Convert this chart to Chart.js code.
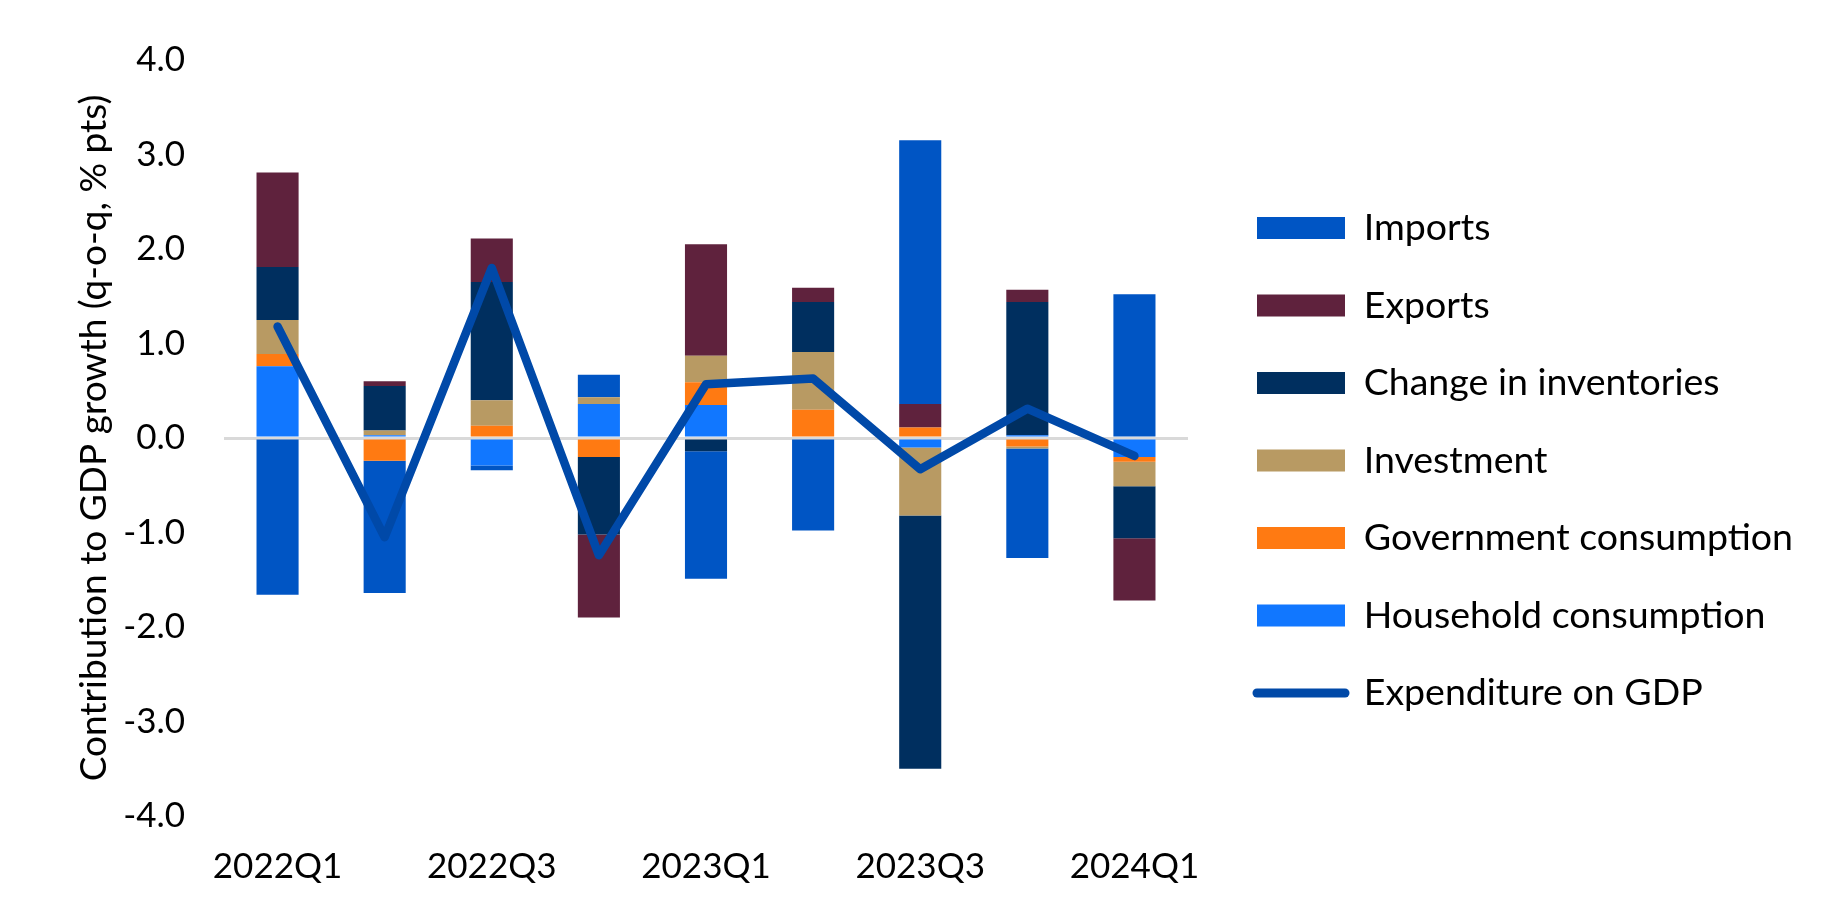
<!DOCTYPE html>
<html>
<head>
<meta charset="utf-8">
<script src="https://cdn.jsdelivr.net/npm/chart.js@4.4.1/dist/chart.umd.min.js"></script>
<style>
  html, body { margin: 0; padding: 0; background: #fff; }
  #wrap { width: 1842px; height: 921px; }
</style>
</head>
<body>
<div id="wrap"><canvas id="gdpChart"></canvas></div>
<script>
// quarters and the labels actually printed under the axis
const quarters   = ['2022Q1', '2022Q2', '2022Q3', '2022Q4', '2023Q1', '2023Q2', '2023Q3', '2023Q4', '2024Q1'];
const tickLabels = ['2022Q1', '', '2022Q3', '', '2023Q1', '', '2023Q3', '', '2024Q1'];

// contributions to q-o-q GDP growth, % pts
const household   = [0.76, 0.03, -0.29, 0.36, 0.35, 0.00, -0.10, 0.03, -0.20];
const government  = [0.13, -0.24, 0.13, -0.20, 0.24, 0.30, 0.11, -0.09, -0.05];
const investment  = [0.36, 0.05, 0.27, 0.07, 0.28, 0.61, -0.72, -0.02, -0.26];
const inventories = [0.56, 0.47, 1.25, -0.82, -0.14, 0.53, -2.68, 1.41, -0.55];
const exportsC    = [1.00, 0.05, 0.46, -0.88, 1.18, 0.15, 0.25, 0.13, -0.66];
const importsC    = [-1.66, -1.40, -0.05, 0.24, -1.35, -0.98, 2.79, -1.16, 1.52];
const gdpGrowth   = [1.18, -1.05, 1.80, -1.24, 0.57, 0.63, -0.33, 0.31, -0.19];

// y axis range
const yMin = -4;
const yMax = 4;
const yStep = 1;

const lineColor = '#0049A8';
// legend position of each dataset (Excel lists stacked series top first)
const legendRank = [5, 4, 3, 2, 1, 0, 6];

Chart.defaults.font.family = 'Lato';
Chart.defaults.color = '#000';

const canvas = document.getElementById('gdpChart');
const ctx = canvas.getContext('2d');

// legend: swatches start at x=1257, so size the right padding from the longest label
const legendFont = 37.5;
const legendPad = 40;
ctx.font = legendFont + 'px Lato';
const longest = ctx.measureText('Government consumption').width;
const rightPad = 1842 - 1257 + legendPad - (legendPad + 88 + legendFont / 2 + longest + 10);

const gdpChart = new Chart(ctx, {
    type: 'bar',
    data: {
        labels: quarters,
        datasets: [
            { label: 'Household consumption', data: household, backgroundColor: '#1177FF' },
            { label: 'Government consumption', data: government, backgroundColor: '#FF7A12' },
            { label: 'Investment', data: investment, backgroundColor: '#B89A63' },
            { label: 'Change in inventories', data: inventories, backgroundColor: '#002F5F' },
            { label: 'Exports', data: exportsC, backgroundColor: '#5F223D' },
            { label: 'Imports', data: importsC, backgroundColor: '#0055C4' },
            {
                type: 'line',
                label: 'Expenditure on GDP',
                data: gdpGrowth,
                borderColor: lineColor,
                backgroundColor: lineColor,
                borderWidth: 8.5,
                borderCapStyle: 'round',
                borderJoinStyle: 'round',
                pointRadius: 0,
                tension: 0,
                fill: false,
                order: -1
            }
        ]
    },
    options: {
        responsive: true,
        maintainAspectRatio: false,
        animation: false,
        datasets: {
            bar: { categoryPercentage: 1, barPercentage: 0.393 }
        },
        layout: { padding: { left: 0, right: rightPad, top: 0, bottom: 0 } },
        plugins: {
            title: {
                display: true,
                text: '',
                font: { size: 10 },
                padding: { top: 38, bottom: 0 }
            },
            legend: {
                position: 'right',
                align: 'center',
                maxWidth: 800,
                labels: {
                    font: { size: legendFont },
                    color: '#000',
                    usePointStyle: true,
                    pointStyleWidth: 88,
                    boxHeight: 22,
                    padding: legendPad,
                    generateLabels: function(chart) {
                        const items = Chart.defaults.plugins.legend.labels.generateLabels(chart);
                        items.forEach(it => {
                            if (it.datasetIndex === 6) {
                                it.pointStyle = 'line';
                                it.lineWidth = 9;
                                it.strokeStyle = lineColor;
                                it.lineCap = 'round';
                            } else {
                                it.pointStyle = 'rect';
                                it.lineWidth = 0;
                            }
                        });
                        return items;
                    },
                    sort: (a, b) => legendRank[a.datasetIndex] - legendRank[b.datasetIndex]
                }
            },
            tooltip: { enabled: false }
        },
        scales: {
            x: {
                stacked: true,
                grid: { display: false, drawTicks: false },
                border: { display: false },
                ticks: {
                    autoSkip: false,
                    maxRotation: 0,
                    padding: 30,
                    font: { size: 35 },
                    callback: (v, i) => tickLabels[i]
                },
                afterFit: s => { s.height = 105; }
            },
            y: {
                stacked: true,
                min: yMin,
                max: yMax,
                border: { display: false },
                grid: {
                    drawTicks: false,
                    lineWidth: 3,
                    color: c => (c.tick && c.tick.value === 0) ? '#D9D9D9' : 'rgba(0,0,0,0)'
                },
                ticks: {
                    stepSize: yStep,
                    padding: 39,
                    font: { size: 35 },
                    callback: v => v.toFixed(1)
                },
                title: {
                    display: true,
                    text: 'Contribution to GDP growth (q-o-q, % pts)',
                    font: { size: 37 },
                    padding: { top: 72, bottom: 0 }
                },
                afterFit: s => { s.width = 224; }
            },
            spacer: {
                type: 'linear',
                position: 'right',
                display: true,
                grid: { display: false, drawTicks: false },
                border: { display: false },
                ticks: { display: false },
                afterFit: s => { s.width = 29; }
            }
        }
    }
});
</script>
</body>
</html>
